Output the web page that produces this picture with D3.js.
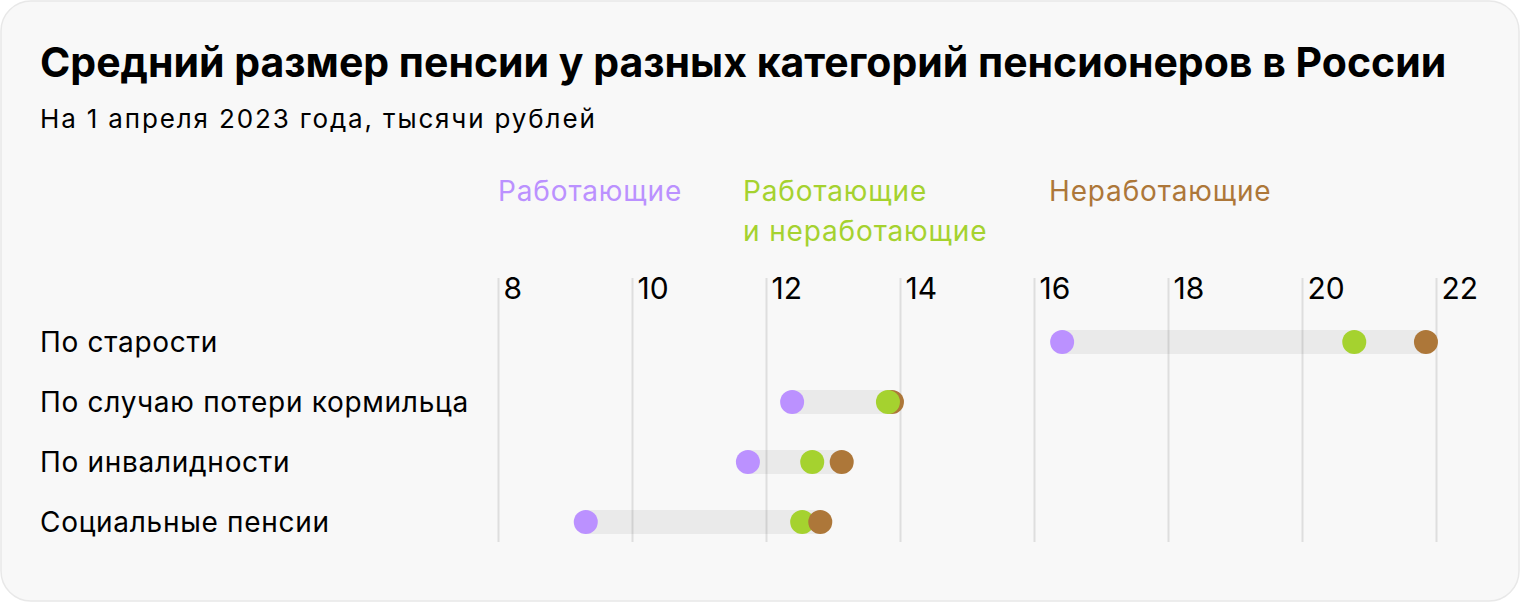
<!DOCTYPE html>
<html>
<head>
<meta charset="utf-8">
<script src="https://cdn.jsdelivr.net/npm/d3@7"></script>
<style>
  html, body { margin: 0; padding: 0; background: #ffffff; }
  svg { display: block; font-family: Inter, "Noto Sans", sans-serif; }
</style>
</head>
<body>
<svg id="chart" width="1520" height="602"></svg>
<script>
const categories = ["По старости", "По случаю потери кормильца", "По инвалидности", "Социальные пенсии"];
const working = [16.42, 12.39, 11.73, 9.31];
const allPensioners = [20.78, 13.82, 12.69, 12.54];
const nonWorking = [21.85, 13.88, 13.13, 12.81];
const tickValues = [8, 10, 12, 14, 16, 18, 20, 22];
const seriesNames = ["Работающие", ["Работающие", "и неработающие"], "Неработающие"];
const seriesColors = ["#bb91ff", "#a5d22f", "#ad7739"];
// which dot is drawn on top in each row (index into series)
const topSeries = [1, 1, 1, 2];

const svg = d3.select("#chart");

svg.append("rect")
  .attr("x", 1).attr("y", 1).attr("width", 1518).attr("height", 600)
  .attr("rx", 30).attr("ry", 30)
  .attr("fill", "#f8f8f8").attr("stroke", "#e8e8e8").attr("stroke-width", 1.5);

svg.append("text").attr("x", 40).attr("y", 77)
  .attr("font-size", 41).attr("font-weight", 700).attr("fill", "#000")
  .text("Средний размер пенсии у разных категорий пенсионеров в России");

svg.append("text").attr("x", 40).attr("y", 128)
  .attr("font-size", 26).attr("letter-spacing", 1.85).attr("fill", "#000")
  .text("На 1 апреля 2023 года, тысячи рублей");

const x = d3.scaleLinear().domain([8, 22]).range([498, 1436]);
const y = d3.scalePoint().domain(categories).range([342, 522]);

// gridlines / axis
const axis = d3.axisBottom(x).tickValues(tickValues).tickSize(264).tickFormat(d3.format("d"));
const gAxis = svg.append("g").attr("transform", "translate(0,278)").call(axis);
gAxis.select(".domain").remove();
gAxis.selectAll(".tick line").attr("stroke", "#000").attr("stroke-opacity", 0.1).attr("stroke-width", 2);
gAxis.selectAll(".tick text")
  .attr("y", 21).attr("dy", 0).attr("x", 5)
  .attr("text-anchor", "start")
  .attr("font-family", "Inter, 'Noto Sans', sans-serif")
  .attr("font-size", 30).attr("fill", "#000");

// legend
const legendX = [498, 743, 1049];
seriesNames.forEach((name, i) => {
  const lines = Array.isArray(name) ? name : [name];
  const t = svg.append("text").attr("x", legendX[i]).attr("y", 201)
    .attr("font-size", 28).attr("letter-spacing", 0.85).attr("fill", seriesColors[i]);
  lines.forEach((l, j) => {
    t.append("tspan").attr("x", legendX[i]).attr("dy", j === 0 ? 0 : 40).text(l);
  });
});

// category labels
svg.append("g").selectAll("text").data(categories).join("text")
  .attr("x", 40).attr("y", d => y(d) + 10)
  .attr("font-size", 28).attr("letter-spacing", 0.7).attr("fill", "#000")
  .text(d => d);

const rows = categories.map((c, i) => ({
  cat: c, vals: [working[i], allPensioners[i], nonWorking[i]], top: topSeries[i]
}));

// range bars
svg.append("g").selectAll("rect").data(rows).join("rect")
  .attr("x", d => x(d3.min(d.vals)))
  .attr("y", d => y(d.cat) - 12)
  .attr("width", d => x(d3.max(d.vals)) - x(d3.min(d.vals)))
  .attr("height", 24)
  .attr("fill", "#000").attr("fill-opacity", 0.055);

// dots, per row, with the row's top series drawn last
const rowG = svg.append("g").selectAll("g").data(rows).join("g");
rowG.selectAll("circle")
  .data(d => {
    const idx = [0, 1, 2].filter(k => k !== d.top).concat([d.top]);
    return idx.map(k => ({ k, v: d.vals[k], cat: d.cat }));
  })
  .join("circle")
  .attr("cx", d => x(d.v))
  .attr("cy", d => y(d.cat))
  .attr("r", 12)
  .attr("fill", d => seriesColors[d.k]);
</script>
</body>
</html>
